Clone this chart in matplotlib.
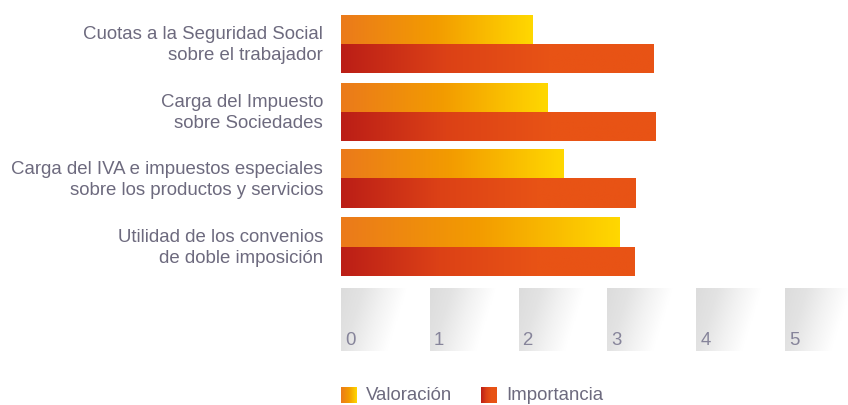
import numpy as np
import matplotlib
matplotlib.use("Agg")
import matplotlib.pyplot as plt
from matplotlib.colors import LinearSegmentedColormap

# ---- data ----
categories = [
    "Cuotas a la Seguridad Social\nsobre el trabajador",
    "Carga del Impuesto\nsobre Sociedades",
    "Carga del IVA e impuestos especiales\nsobre los productos y servicios",
    "Utilidad de los convenios\nde doble imposición",
]
valoracion = [2.16, 2.33, 2.51, 3.14]
importancia = [3.52, 3.54, 3.32, 3.30]
tick_values = [0, 1, 2, 3, 4, 5]
legend_labels = ["Valoración", "Importancia"]

# ---- style ----
W, H = 848, 405
text_color = "#6d6a7e"
tick_color = "#86849a"
cmap_val = LinearSegmentedColormap.from_list("val", ["#eb7a1b", "#f39c00", "#ffd800"])
cmap_imp = LinearSegmentedColormap.from_list("imp", ["#bb1e17", "#dc4116", "#e85315", "#e85315"])
cmap_box = LinearSegmentedColormap.from_list("box", ["#dcdcdc", "#e3e3e3", "#f2f2f2", "#ffffff"])
font = "Liberation Sans"
fs = 13.4

fig = plt.figure(figsize=(W / 100, H / 100), dpi=100)
x0_px = 341
unit_px = 88.8
ax = fig.add_axes([x0_px / W, 0, (W - x0_px) / W, 1])
pitch_px = 67.7
first_center_px = 44
ax.axis("off")

bar_h = 29 / pitch_px
grad = np.linspace(0, 1, 256).reshape(1, -1)

for i, (v, imp) in enumerate(zip(valoracion, importancia)):
    yv = i - bar_h / 2
    yi = i + bar_h / 2
    for val, yc, cm in ((v, yv, cmap_val), (imp, yi, cmap_imp)):
        ax.imshow(grad, cmap=cm, aspect="auto", interpolation="bilinear",
                  extent=(0, val, yc + bar_h / 2, yc - bar_h / 2), zorder=2)
    ax.text(-18 / unit_px, i + 1 / pitch_px, categories[i], ha="right", va="center",
            fontsize=fs, color=text_color, family=font, linespacing=1.3)

# tick boxes
box_top = (288 - first_center_px) / pitch_px
box_bot = (351 - first_center_px) / pitch_px
box_w = 78 / unit_px
yy, xx = np.mgrid[0:1:64j, 0:1:64j]
box_grad = np.clip(xx * 1.18 + yy * 0.3, 0, 1)
for t in tick_values:
    ax.imshow(box_grad, cmap=cmap_box, aspect="auto", interpolation="bilinear",
              extent=(t, t + box_w, box_bot, box_top), zorder=1, vmin=0, vmax=1)
    ax.text(t + 4 / unit_px, box_bot - 6 / pitch_px, str(t), ha="left", va="baseline",
            fontsize=fs, color=tick_color, family=font)
ax.set_xlim(0, (W - x0_px) / unit_px)
ax.set_ylim((H - first_center_px) / pitch_px, -first_center_px / pitch_px)

# legend
leg_items = [(341, cmap_val, legend_labels[0]), (481, cmap_imp, legend_labels[1])]
for xpx, cm, lab in leg_items:
    lax = fig.add_axes([xpx / W, (H - 403) / H, 16 / W, 16 / H])
    lax.imshow(grad, cmap=cm, aspect="auto", interpolation="bilinear")
    lax.axis("off")
    fig.text((xpx + 25) / W, (H - 396) / H, lab, ha="left", va="center",
             fontsize=fs, color=text_color, family=font)

fig.savefig("out.png", dpi=100)
